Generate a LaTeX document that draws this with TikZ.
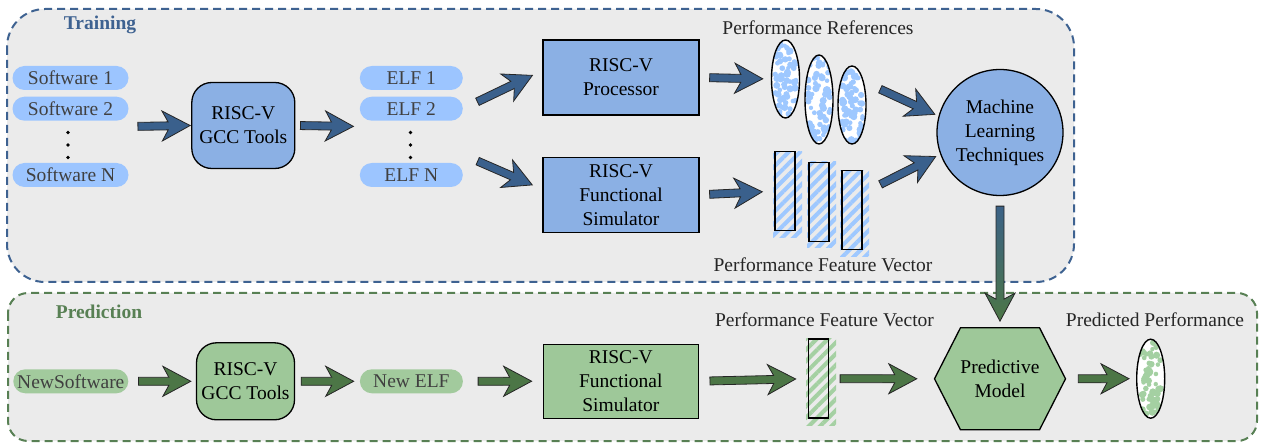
\documentclass[tikz,border=0pt]{standalone}
\usepackage{fontspec}
\setmainfont{Liberation Serif}
\usetikzlibrary{shapes.geometric,shapes.symbols,calc,fit,patterns.meta}

\definecolor{bgGray}{RGB}{235,235,235}
\definecolor{trainBlue}{RGB}{62,98,145}
\definecolor{pillBlue}{RGB}{156,197,255}
\definecolor{boxBlue}{RGB}{139,176,228}
\definecolor{arrowBlue}{RGB}{58,96,140}
\definecolor{dotBlue}{RGB}{158,200,255}
\definecolor{predGreen}{RGB}{88,128,84}
\definecolor{pillGreen}{RGB}{162,202,157}
\definecolor{boxGreen}{RGB}{158,200,153}
\definecolor{arrowGreen}{RGB}{76,118,70}
\definecolor{dotGreen}{RGB}{164,208,162}

\tikzset{
  fatarrow/.style 2 args={to path={
    let \p1=(\tikztostart), \p2=(\tikztotarget),
        \n1={atan2(\y2-\y1,\x2-\x1)}, \n2={veclen(\x2-\x1,\y2-\y1)-#2}
    in ([shift={(\p1)},rotate=\n1]#1pt,4pt)
    -- ([shift={(\p1)},rotate=\n1]\n2*1pt-22pt,4pt)
    -- ([shift={(\p1)},rotate=\n1]\n2*1pt-28pt,15pt)
    -- ([shift={(\p1)},rotate=\n1]\n2*1pt,0pt)
    -- ([shift={(\p1)},rotate=\n1]\n2*1pt-28pt,-15pt)
    -- ([shift={(\p1)},rotate=\n1]\n2*1pt-22pt,-4pt)
    -- ([shift={(\p1)},rotate=\n1]#1pt,-4pt) -- cycle}},
  bluearrow/.style={draw=black!85, line width=0.8pt, fill=arrowBlue},
  greenarrow/.style={draw=black!85, line width=0.8pt, fill=arrowGreen}
}

\begin{document}
\begin{tikzpicture}[x=1pt,y=-1pt,
  font=\fontsize{19.5}{24}\selectfont,
  pill/.style={rectangle, rounded corners=12pt, minimum height=24pt, inner sep=0pt, text=black!75},
  toolbox/.style={rectangle, rounded corners=20pt, draw, line width=1.3pt, align=center, inner sep=0pt},
  stagebox/.style={rectangle, draw, line width=1.3pt, align=center, inner sep=0pt},
  featbar/.style={rectangle, draw, line width=1.4pt, minimum width=20pt, minimum height=79pt, inner sep=0pt},
  refblob/.style 2 args={ellipse, draw, line width=1.4pt, fill=white, minimum width=28pt,
    minimum height=#1, inner sep=0pt,
    path picture={\foreach \k in {1,...,70}
      \fill[#2] ([shift={(rand*11pt,rand*#1*0.47)}]path picture bounding box.center) circle ({2.9pt+0.8pt*rand});}},
  title/.style={font=\fontsize{19.5}{24}\selectfont\bfseries},
  dot/.style={circle, fill=black, inner sep=0pt, minimum size=3.6pt}
]
\useasboundingbox (0,0) rectangle (1261,443);
\pgfmathsetseed{12}

% the two stages
\draw[draw=trainBlue, fill=bgGray, line width=2pt, dash pattern=on 8pt off 5pt, rounded corners=38pt]
  (7,9) rectangle (1074,282);
\draw[draw=predGreen, fill=bgGray, line width=2pt, dash pattern=on 8pt off 5pt, rounded corners=20pt]
  (8,293) rectangle (1257,441);
\node[title, text=trainBlue] (traintitle) at (100,25) {Training};
\node[title, text=predGreen] (predtitle) at (99,312) {Prediction};

% Training: inputs
\node[pill, fill=pillBlue, minimum width=116pt] (sw1) at (70.5,78) {Software 1};
\node[pill, fill=pillBlue, minimum width=116pt] (sw2) at (70.5,108.7) {Software 2};
\node[pill, fill=pillBlue, minimum width=116pt] (swN) at (70.5,175) {Software N};
\node[fit=(sw1)(swN), inner sep=0pt] (swgroup) {};

\node[toolbox, fill=boxBlue, minimum width=103pt, minimum height=86pt] (gcc) at (243.3,125.5) {RISC-V\\GCC Tools};

\node[pill, fill=pillBlue, minimum width=103pt] (elf1) at (411.3,78) {ELF 1};
\node[pill, fill=pillBlue, minimum width=103pt] (elf2) at (411.3,108.7) {ELF 2};
\node[pill, fill=pillBlue, minimum width=103pt] (elfN) at (411.3,175) {ELF N};
\node[fit=(elf1)(elfN), inner sep=0pt] (elfgroup) {};

% vertical dots
\foreach \dy [count=\j] in {132.5,145,157.5} {
  \node[dot] (swdot\j) at (68,\dy) {};
  \node[dot] (elfdot\j) at (410.5,\dy) {};
}

\node[stagebox, fill=boxBlue, minimum width=156pt, minimum height=75pt] (proc) at (621,77.5) {RISC-V\\Processor};
\node[stagebox, fill=boxBlue, minimum width=156pt, minimum height=75pt] (sim) at (621,194.8) {RISC-V\\Functional\\Simulator};

% performance references
\node[refblob={78pt}{dotBlue}] (ell1) at (785.5,79) {};
\node[refblob={89pt}{dotBlue}] (ell2) at (819,99.5) {};
\node[refblob={78pt}{dotBlue}] (ell3) at (852,105) {};
\node[text=black!85] (reflabel) at (818,28) {Performance References};

% feature vectors
\foreach \bx/\by [count=\i] in {785/191.2, 819/202, 852/210.3} {
  \fill[pattern={Lines[angle=45,distance=8pt,line width=4pt]}, pattern color=dotBlue]
    (\bx-12,\by-40) rectangle (\bx+17,\by+46);
  \node[featbar] (bar\i) at (\bx,\by) {};
}
\node[text=black!85] (featlabel) at (823,265) {Performance Feature Vector};

\node[circle, draw, line width=1.3pt, fill=boxBlue, minimum size=126pt, inner sep=0pt, align=center]
  (ml) at (1000,132.5) {Machine\\Learning\\Techniques};

% Prediction row
\node[pill, fill=pillGreen, minimum width=115pt] (newsw) at (70.8,381.3) {NewSoftware};
\node[toolbox, fill=boxGreen, minimum width=98pt, minimum height=77pt] (gccG) at (245.5,381.3) {RISC-V\\GCC Tools};
\node[pill, fill=pillGreen, minimum width=103pt] (newelf) at (411.4,381.3) {New ELF};
\node[stagebox, fill=boxGreen, minimum width=155pt, minimum height=74pt] (simG) at (620.8,381.2) {RISC-V\\Functional\\Simulator};
\fill[pattern={Lines[angle=45,distance=8pt,line width=4pt]}, pattern color=dotGreen]
  (806,339) rectangle (836,425);
\node[featbar] (barG) at (818.4,378.7) {};
\node[text=black!85] (featlabelG) at (824.5,320) {Performance Feature Vector};
\node[signal, signal to=east and west, signal pointer angle=126, draw, line width=1.3pt, fill=boxGreen,
  minimum width=126pt, minimum height=102pt, inner sep=0pt, align=center] (hex) at (1000,378.8) {Predictive\\Model};
\node[refblob={79pt}{dotGreen}] (ellG) at (1150.7,378.7) {};
\node[text=black!85] (predlabel) at (1155,320) {Predicted Performance};

% arrows
\path[fatarrow={9}{1}, bluearrow] (swgroup.east) to (gcc.west);
\path[fatarrow={5}{6}, bluearrow] (gcc.east) to (elfgroup.west);
\path[fatarrow={16}{11}, bluearrow] (elf2.east) to (proc.175);
\path[fatarrow={16}{11}, bluearrow] ([yshift=8pt]elfN.north east) to (sim.176);
\path[fatarrow={10}{8}, bluearrow] (proc.east) to (ell1.west);
\path[fatarrow={10}{12}, bluearrow] (sim.east) to (bar1.west);
\path[fatarrow={15}{4}, bluearrow] ([yshift=22pt]ell3.east) to (ml.165);
\path[fatarrow={20}{5}, bluearrow] ([yshift=17pt]bar3.east) to (ml.200);
\path[fatarrow={10}{6}, draw=black!85, line width=0.8pt, top color=arrowBlue, bottom color=arrowGreen]
  (ml.south) to (hex.north);

\path[fatarrow={10}{5}, greenarrow] (newsw.east) to (gccG.west);
\path[fatarrow={6}{6}, greenarrow] (gccG.east) to (newelf.west);
\path[fatarrow={15}{11}, greenarrow] (newelf.east) to (simG.west);
\path[fatarrow={11}{12}, greenarrow] (simG.east) to (barG.west);
\path[fatarrow={11}{17}, greenarrow] (barG.east) to (hex.west);
\path[fatarrow={12}{7}, greenarrow] (hex.east) to (ellG.west);
\end{tikzpicture}
\end{document}
